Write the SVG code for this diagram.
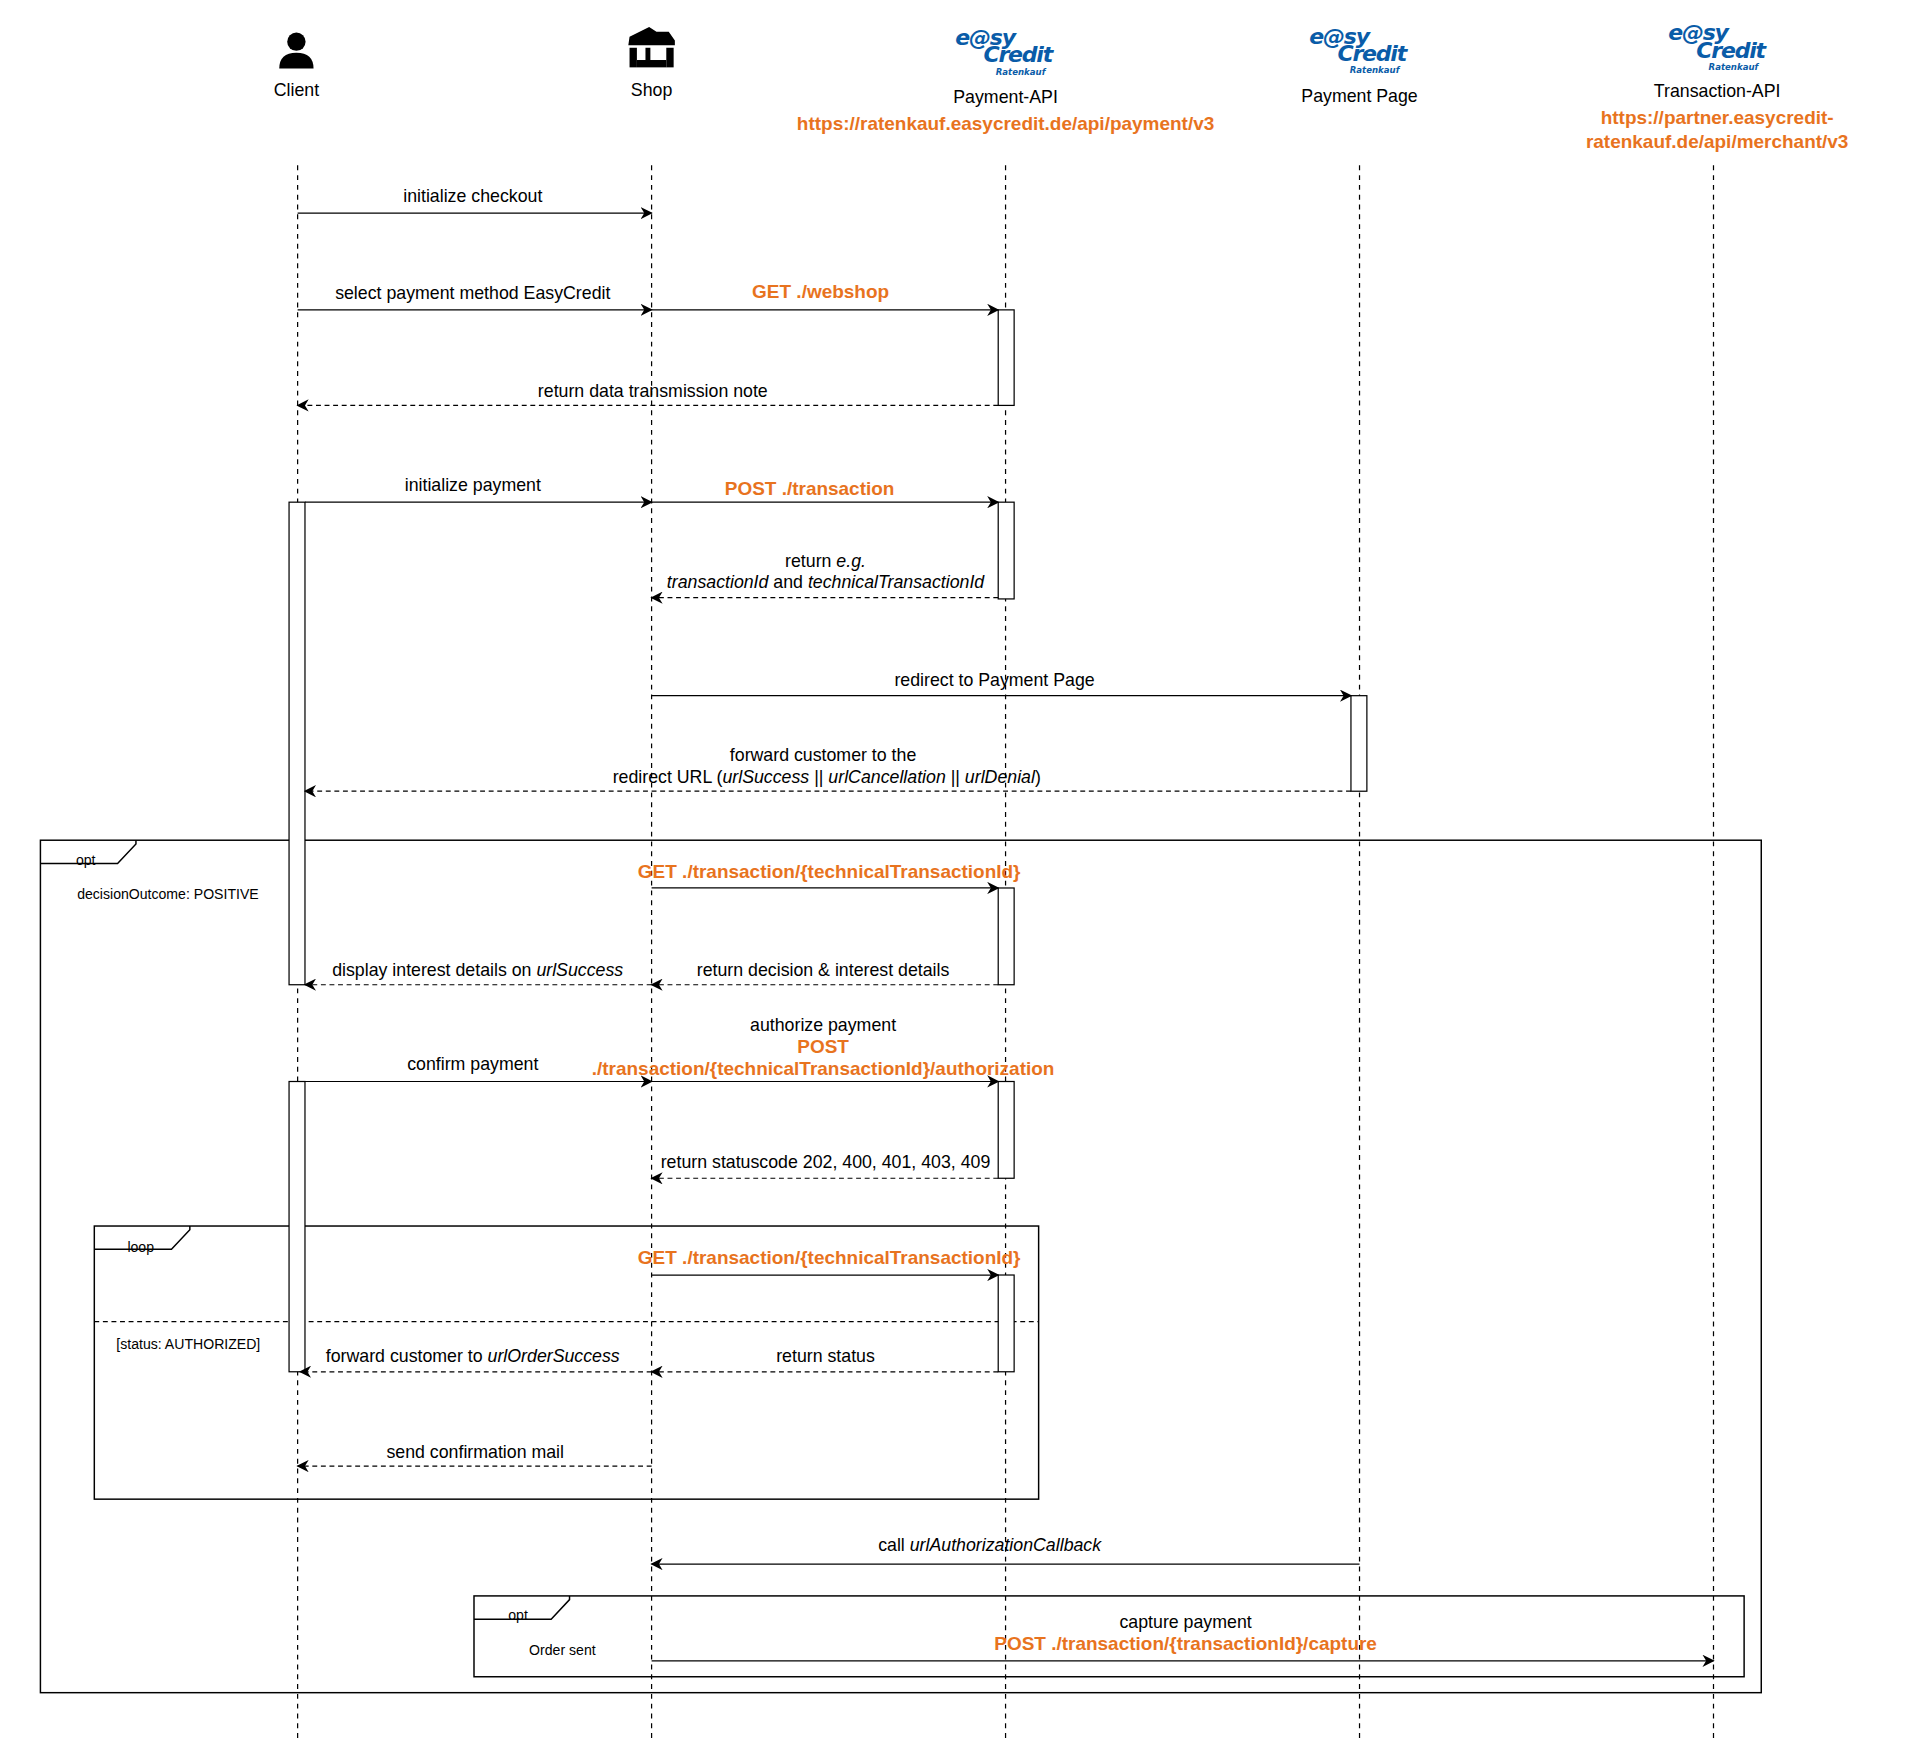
<svg xmlns="http://www.w3.org/2000/svg" width="1920" height="1756" viewBox="0 0 1920 1756">
<defs>
<marker id="a" markerWidth="10" markerHeight="10" refX="9" refY="5" orient="auto" markerUnits="userSpaceOnUse"><path d="M0,0 L10,5 L0,10 L3,5 Z" fill="#000"/></marker>
<style>
text{font-family:"Liberation Sans",Arial,sans-serif;font-size:14.5px;fill:#000}
.c{text-anchor:middle}
.o{fill:#E8731E;font-weight:bold;font-size:15.5px}
.s{font-size:11.5px}
.ll{stroke:#000;stroke-dasharray:4 4;fill:none}
.m{stroke:#000;fill:none;marker-end:url(#a)}
.d{stroke:#000;fill:none;stroke-dasharray:4 3;marker-end:url(#a)}
.act{fill:#fff;stroke:#000}
.fr{fill:none;stroke:#000;stroke-width:1.2}
text.lg{font-family:"DejaVu Sans",sans-serif;font-style:italic;font-weight:bold;fill:#0A5CA8;font-size:18px;letter-spacing:-1px}
text.lr{font-family:"DejaVu Sans",sans-serif;font-style:italic;font-weight:bold;fill:#0A5CA8;font-size:7px}
</style>
</defs>
<rect width="1920" height="1756" fill="#fff"/>
<g transform="scale(1.2248)">
<g id="lifelines">
<line class="ll" x1="243" y1="135" x2="243" y2="1420"/>
<line class="ll" x1="532" y1="135" x2="532" y2="1420"/>
<line class="ll" x1="821" y1="135" x2="821" y2="1420"/>
<line class="ll" x1="1110" y1="135" x2="1110" y2="1420"/>
<line class="ll" x1="1399" y1="135" x2="1399" y2="1420"/>
</g>
<g id="client">
<circle cx="242" cy="34" r="7.5" fill="#000"/>
<path d="M228,56 Q228,43 242,43 Q256,43 256,56 Z" fill="#000"/>
<text class="c" x="242" y="78">Client</text>
</g>
<g id="shop">
<path d="M514,30 L530,22 L536,26 L546,26 L551,33 L551,37 L513,37 Z" fill="#000"/>
<rect x="514" y="39" width="6" height="16" fill="#000"/>
<rect x="544" y="39" width="6" height="16" fill="#000"/>
<rect x="520" y="49" width="24" height="6" fill="#000"/>
<rect x="527" y="39" width="4" height="10" fill="#000"/>
<text class="c" x="532" y="78">Shop</text>
</g>
<g id="payment-api">
<text class="lg" x="780" y="37">e@sy</text>
<text class="lg" x="803" y="51">Credit</text>
<text class="lr" x="813" y="61">Ratenkauf</text>
<text class="c" x="821" y="84">Payment-API</text>
<text class="c o" x="821" y="106">https://ratenkauf.easycredit.de/api/payment/v3</text>
</g>
<g id="payment-page">
<text class="lg" x="1069" y="36">e@sy</text>
<text class="lg" x="1092" y="50">Credit</text>
<text class="lr" x="1102" y="60">Ratenkauf</text>
<text class="c" x="1110" y="83">Payment Page</text>
</g>
<g id="transaction-api">
<text class="lg" x="1362" y="33">e@sy</text>
<text class="lg" x="1385" y="47">Credit</text>
<text class="lr" x="1395" y="57">Ratenkauf</text>
<text class="c" x="1402" y="79">Transaction-API</text>
<text class="c o" x="1402" y="101">https://partner.easycredit-</text>
<text class="c o" x="1402" y="121">ratenkauf.de/api/merchant/v3</text>
</g>
<g id="frames">
<rect class="fr" x="33" y="686" width="1405" height="696"/>
<path class="fr" d="M33,705 L96,705 L111,689 L111,686"/>
<text class="s" x="62" y="706">opt</text>
<text class="s" x="63" y="734">decisionOutcome: POSITIVE</text>
<rect class="fr" x="77" y="1001" width="771" height="223"/>
<path class="fr" d="M77,1020 L140,1020 L155,1004 L155,1001"/>
<text class="s" x="104" y="1022">loop</text>
<line x1="77" y1="1079" x2="848" y2="1079" stroke="#000" stroke-dasharray="4 3"/>
<text class="s" x="95" y="1101">[status: AUTHORIZED]</text>
<rect class="fr" x="387" y="1303" width="1037" height="66"/>
<path class="fr" d="M387,1322 L450,1322 L465,1306 L465,1303"/>
<text class="s" x="415" y="1323">opt</text>
<text class="s" x="432" y="1351">Order sent</text>
</g>
<g id="activations">
<rect class="act" x="815" y="253" width="13" height="78"/>
<rect class="act" x="236" y="410" width="13" height="394"/>
<rect class="act" x="815" y="410" width="13" height="79"/>
<rect class="act" x="1103" y="568" width="13" height="78"/>
<rect class="act" x="815" y="725" width="13" height="79"/>
<rect class="act" x="236" y="883" width="13" height="237"/>
<rect class="act" x="815" y="883" width="13" height="79"/>
<rect class="act" x="815" y="1041" width="13" height="79"/>
</g>
<g id="connectors">
<line class="m" x1="243" y1="174" x2="532" y2="174"/>
<text class="c" x="386" y="165">initialize checkout</text>
<line class="m" x1="243" y1="253" x2="532" y2="253"/>
<text class="c" x="386" y="244">select payment method EasyCredit</text>
<line class="m" x1="532" y1="253" x2="815" y2="253"/>
<text class="c o" x="670" y="243">GET ./webshop</text>
<line class="d" x1="815" y1="331" x2="243" y2="331"/>
<text class="c" x="533" y="324">return data transmission note</text>
<line class="m" x1="249" y1="410" x2="532" y2="410"/>
<text class="c" x="386" y="401">initialize payment</text>
<line class="m" x1="532" y1="410" x2="815" y2="410"/>
<text class="c o" x="661" y="404">POST ./transaction</text>
<line class="d" x1="815" y1="488" x2="532" y2="488"/>
<text class="c" x="674" y="463">return <tspan font-style="italic">e.g.</tspan></text>
<text class="c" x="674" y="480"><tspan font-style="italic">transactionId</tspan> and <tspan font-style="italic">technicalTransactionId</tspan></text>
<line class="m" x1="532" y1="568" x2="1103" y2="568"/>
<text class="c" x="812" y="560">redirect to Payment Page</text>
<line class="d" x1="1103" y1="646" x2="249" y2="646"/>
<text class="c" x="672" y="621">forward customer to the</text>
<text class="c" x="675" y="639">redirect URL (<tspan font-style="italic">urlSuccess</tspan> || <tspan font-style="italic">urlCancellation</tspan> || <tspan font-style="italic">urlDenial</tspan>)</text>
<line class="m" x1="532" y1="725" x2="815" y2="725"/>
<text class="c o" x="677" y="717">GET ./transaction/{technicalTransactionId}</text>
<line class="d" x1="815" y1="804" x2="532" y2="804"/>
<text class="c" x="672" y="797">return decision &amp; interest details</text>
<line class="d" x1="532" y1="804" x2="249" y2="804"/>
<text class="c" x="390" y="797">display interest details on <tspan font-style="italic">urlSuccess</tspan></text>
<line class="m" x1="249" y1="883" x2="532" y2="883"/>
<text class="c" x="386" y="874">confirm payment</text>
<line class="m" x1="532" y1="883" x2="815" y2="883"/>
<text class="c" x="672" y="842">authorize payment</text>
<text class="c o" x="672" y="860">POST</text>
<text class="c o" x="672" y="878">./transaction/{technicalTransactionId}/authorization</text>
<line class="d" x1="815" y1="962" x2="532" y2="962"/>
<text class="c" x="674" y="954">return statuscode 202, 400, 401, 403, 409</text>
<line class="m" x1="532" y1="1041" x2="815" y2="1041"/>
<text class="c o" x="677" y="1032">GET ./transaction/{technicalTransactionId}</text>
<line class="d" x1="815" y1="1120" x2="532" y2="1120"/>
<text class="c" x="674" y="1112">return status</text>
<line class="d" x1="532" y1="1120" x2="245" y2="1120"/>
<text class="c" x="386" y="1112">forward customer to <tspan font-style="italic">urlOrderSuccess</tspan></text>
<line class="d" x1="532" y1="1197" x2="243" y2="1197"/>
<text class="c" x="388" y="1190">send confirmation mail</text>
<line class="m" x1="1110" y1="1277" x2="532" y2="1277"/>
<text class="c" x="808" y="1266">call <tspan font-style="italic">urlAuthorizationCallback</tspan></text>
<line class="m" x1="532" y1="1356" x2="1399" y2="1356"/>
<text class="c" x="968" y="1329">capture payment</text>
<text class="c o" x="968" y="1347">POST ./transaction/{transactionId}/capture</text>
</g>
</g>
</svg>
